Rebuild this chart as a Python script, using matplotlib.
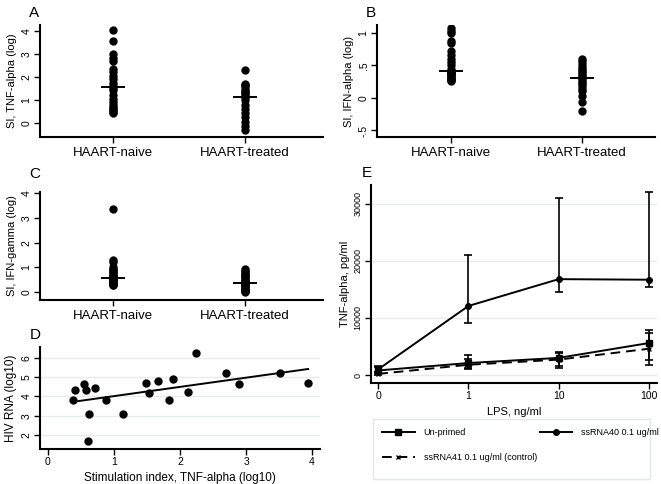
import numpy as np
import matplotlib
matplotlib.use("Agg")
import matplotlib.pyplot as plt
from matplotlib.patches import Rectangle
from matplotlib.lines import Line2D

plt.rcParams['font.family'] = ['Liberation Sans', 'DejaVu Sans']

# ---------------- data ----------------
groups = ['HAART-naive', 'HAART-treated']

tnf_naive = [4.03, 3.57, 3.0, 2.8, 2.7, 2.35, 2.2, 2.05, 1.9, 1.75, 1.6, 1.52,
             1.45, 1.2, 1.05, 0.9, 0.8, 0.7, 0.62, 0.55, 0.48, 0.42]
tnf_treated = [2.3, 1.7, 1.65, 1.6, 1.5, 1.4, 1.36, 1.25, 1.18, 1.12, 1.0, 0.8,
               0.6, 0.43, 0.26, 0.07, -0.12, -0.28]

ifna_naive = [1.07, 1.03, 1.0, 0.87, 0.84, 0.72, 0.66, 0.6, 0.55, 0.5, 0.45, 0.41,
              0.40, 0.39, 0.38, 0.36, 0.35, 0.33, 0.31, 0.30, 0.28, 0.27, 0.26]
ifna_treated = [0.6, 0.56, 0.52, 0.48, 0.45, 0.42, 0.38, 0.35, 0.32, 0.30, 0.28,
                0.25, 0.22, 0.18, 0.14, 0.10, 0.03, -0.07, -0.20]

ifng_naive = [3.38, 1.3, 1.22, 1.0, 0.95, 0.9, 0.85, 0.8, 0.75, 0.7, 0.65, 0.6,
              0.58, 0.55, 0.52, 0.5, 0.47, 0.45, 0.43, 0.4, 0.38, 0.36, 0.32,
              0.30, 0.28]
ifng_treated = [0.92, 0.85, 0.8, 0.75, 0.7, 0.65, 0.6, 0.55, 0.5, 0.45, 0.4, 0.37,
                0.36, 0.34, 0.3, 0.26, 0.22, 0.18, 0.14, 0.1, 0.06, 0.03, 0.0]

si_tnf = [0.38, 0.41, 0.55, 0.57, 0.62, 0.60, 0.71, 0.88, 1.13, 1.48, 1.53, 1.67,
          1.83, 1.89, 2.12, 2.24, 2.69, 2.90, 3.51, 3.94]
hiv_rna = [3.81, 4.33, 4.64, 4.33, 3.09, 1.71, 4.43, 3.81, 3.09, 4.71, 4.16, 4.79,
           3.81, 4.90, 4.24, 6.26, 5.24, 4.64, 5.24, 4.71]

lps_labels = ['0', '1', '10', '100']
unprimed_mean = [800, 2100, 3000, 5600]
unprimed_lo = [200, 1200, 1200, 1800]
unprimed_hi = [1400, 3500, 4100, 7900]
ssrna40_mean = [1000, 12100, 16800, 16700]
ssrna40_lo = [500, 9070, 14500, 15500]
ssrna40_hi = [1500, 21000, 31100, 32000]
ssrna41_mean = [200, 1800, 2700, 4600]
ssrna41_lo = [0, 1000, 1500, 2600]
ssrna41_hi = [500, 2800, 3800, 7400]

# ---------------- figure ----------------
W, H = 661, 484
fig = plt.figure(figsize=(W / 100, H / 100), dpi=100)


def ax_px(l, t, r, b):
    return fig.add_axes([l / W, 1 - b / H, (r - l) / W, (b - t) / H])


def letter(txt, x, ybase):
    fig.text(x / W, 1 - ybase / H, txt, fontsize=11, ha='left', va='baseline')


def style(ax):
    for s in ['top', 'right']:
        ax.spines[s].set_visible(False)
    for s in ['left', 'bottom']:
        ax.spines[s].set_linewidth(1.5)
    ax.tick_params(direction='out', length=4, width=1, labelsize=7.5, pad=2)
    for lab in ax.get_yticklabels():
        lab.set_rotation(90)
        lab.set_va('center')


def strip(ax, a, b, yticks, yticklabels, ylim, xlim, ylabel):
    for i, vals in enumerate([a, b]):
        xs = np.full(len(vals), i + 1)
        ax.plot(xs, vals, 'o', color='black', ms=5, mec='black', zorder=3)
        med = np.median(vals)
        ax.hlines(med, i + 1 - 0.09, i + 1 + 0.09, color='black', lw=1.4, zorder=4)
    ax.set_xlim(*xlim)
    ax.set_ylim(*ylim)
    ax.set_xticks([1, 2])
    ax.set_xticklabels(groups, fontsize=9)
    ax.set_yticks(yticks)
    ax.set_yticklabels(yticklabels)
    ax.set_ylabel(ylabel, fontsize=8, labelpad=3)
    style(ax)
    ax.tick_params(axis='x', labelsize=9.5, pad=3)


axA = ax_px(40, 25, 323, 137)
strip(axA, tnf_naive, tnf_treated, [0, 1, 2, 3, 4], ['0', '1', '2', '3', '4'],
      (-0.6, 4.25), (0.45, 2.59), 'SI, TNF-alpha (log)')
letter('A', 29, 17)

axB = ax_px(377, 25, 655, 137)
strip(axB, ifna_naive, ifna_treated, [-0.5, 0, 0.5, 1], ['-.5', '0', '.5', '1'],
      (-0.6, 1.12), (0.435, 2.56), 'SI, IFN-alpha (log)')
letter('B', 366, 17)

axC = ax_px(40, 192, 323, 300)
strip(axC, ifng_naive, ifng_treated, [0, 1, 2, 3, 4], ['0', '1', '2', '3', '4'],
      (-0.32, 4.05), (0.45, 2.59), 'SI, IFN-gamma (log)')
letter('C', 29, 178)

# ---- D ----
axD = ax_px(40, 347, 320, 449)
x = np.array(si_tnf)
y = np.array(hiv_rna)
slope, intercept = np.polyfit(x, y, 1)
xl = np.array([x.min(), x.max()])
axD.plot(xl, slope * xl + intercept, color='black', lw=1.4, zorder=2)
axD.plot(x, y, 'o', color='black', ms=5, zorder=3)
axD.set_xlim(-0.12, 4.12)
axD.set_ylim(1.27, 6.57)
axD.set_xticks([0, 1, 2, 3, 4])
axD.set_yticks([2, 3, 4, 5, 6])
axD.yaxis.grid(True, color='#e6ecee', lw=1)
axD.set_axisbelow(True)
axD.set_xlabel('Stimulation index, TNF-alpha (log10)', fontsize=8.5, labelpad=3)
axD.set_ylabel('HIV RNA (log10)', fontsize=8.5, labelpad=3)
style(axD)
letter('D', 30, 339)

# ---- E ----
axE = ax_px(371, 185, 657, 383)
xi = np.arange(len(lps_labels))


def series(mean, lo, hi, marker, ls, ms):
    mean = np.array(mean)
    err = [mean - np.array(lo), np.array(hi) - mean]
    axE.errorbar(xi, mean, yerr=err, fmt='none', ecolor='black', elinewidth=1.2,
                 capsize=3, capthick=1.2, zorder=3)
    axE.plot(xi, mean, color='black', ls=ls, lw=1.4, marker=marker, ms=ms,
             zorder=4)


series(unprimed_mean, unprimed_lo, unprimed_hi, 's', '-', 4)
series(ssrna40_mean, ssrna40_lo, ssrna40_hi, 'o', '-', 4)
series(ssrna41_mean, ssrna41_lo, ssrna41_hi, 'x', (0, (5, 3)), 3.5)
axE.set_xlim(-0.08, 3.09)
axE.set_ylim(-1400, 33300)
axE.set_xticks(xi)
axE.set_xticklabels(lps_labels)
axE.set_yticks([0, 10000, 20000, 30000])
axE.yaxis.grid(True, color='#e6ecee', lw=1)
axE.set_axisbelow(True)
axE.set_xlabel('LPS, ng/ml', fontsize=8, labelpad=4)
axE.set_ylabel('TNF-alpha, pg/ml', fontsize=8, labelpad=3)
style(axE)
axE.tick_params(axis='y', labelsize=6.5)
letter('E', 362, 177)

# legend box
fig.patches.append(Rectangle((373 / W, 1 - 479 / H), (650 - 373) / W, 60 / H,
                             transform=fig.transFigure, fill=False,
                             edgecolor='#dfe8ea', lw=1))
handles = [
    Line2D([], [], color='black', lw=1.4, marker='s', ms=4),
    Line2D([], [], color='black', lw=1.4, ls=(0, (5, 3)), marker='x', ms=3.5),
    Line2D([], [], color='black', lw=1.4, marker='o', ms=4),
]
labels = ['Un-primed', 'ssRNA41 0.1 ug/ml (control)', 'ssRNA40 0.1 ug/ml']
fig.legend(handles, labels, ncol=2, frameon=False, fontsize=6.5,
           loc='upper left', bbox_to_anchor=(375 / W, 1 - 421 / H),
           handlelength=3.6, columnspacing=0.3, labelspacing=1.75,
           handletextpad=1.0, borderpad=0.3)

fig.savefig('out.png', dpi=100)
